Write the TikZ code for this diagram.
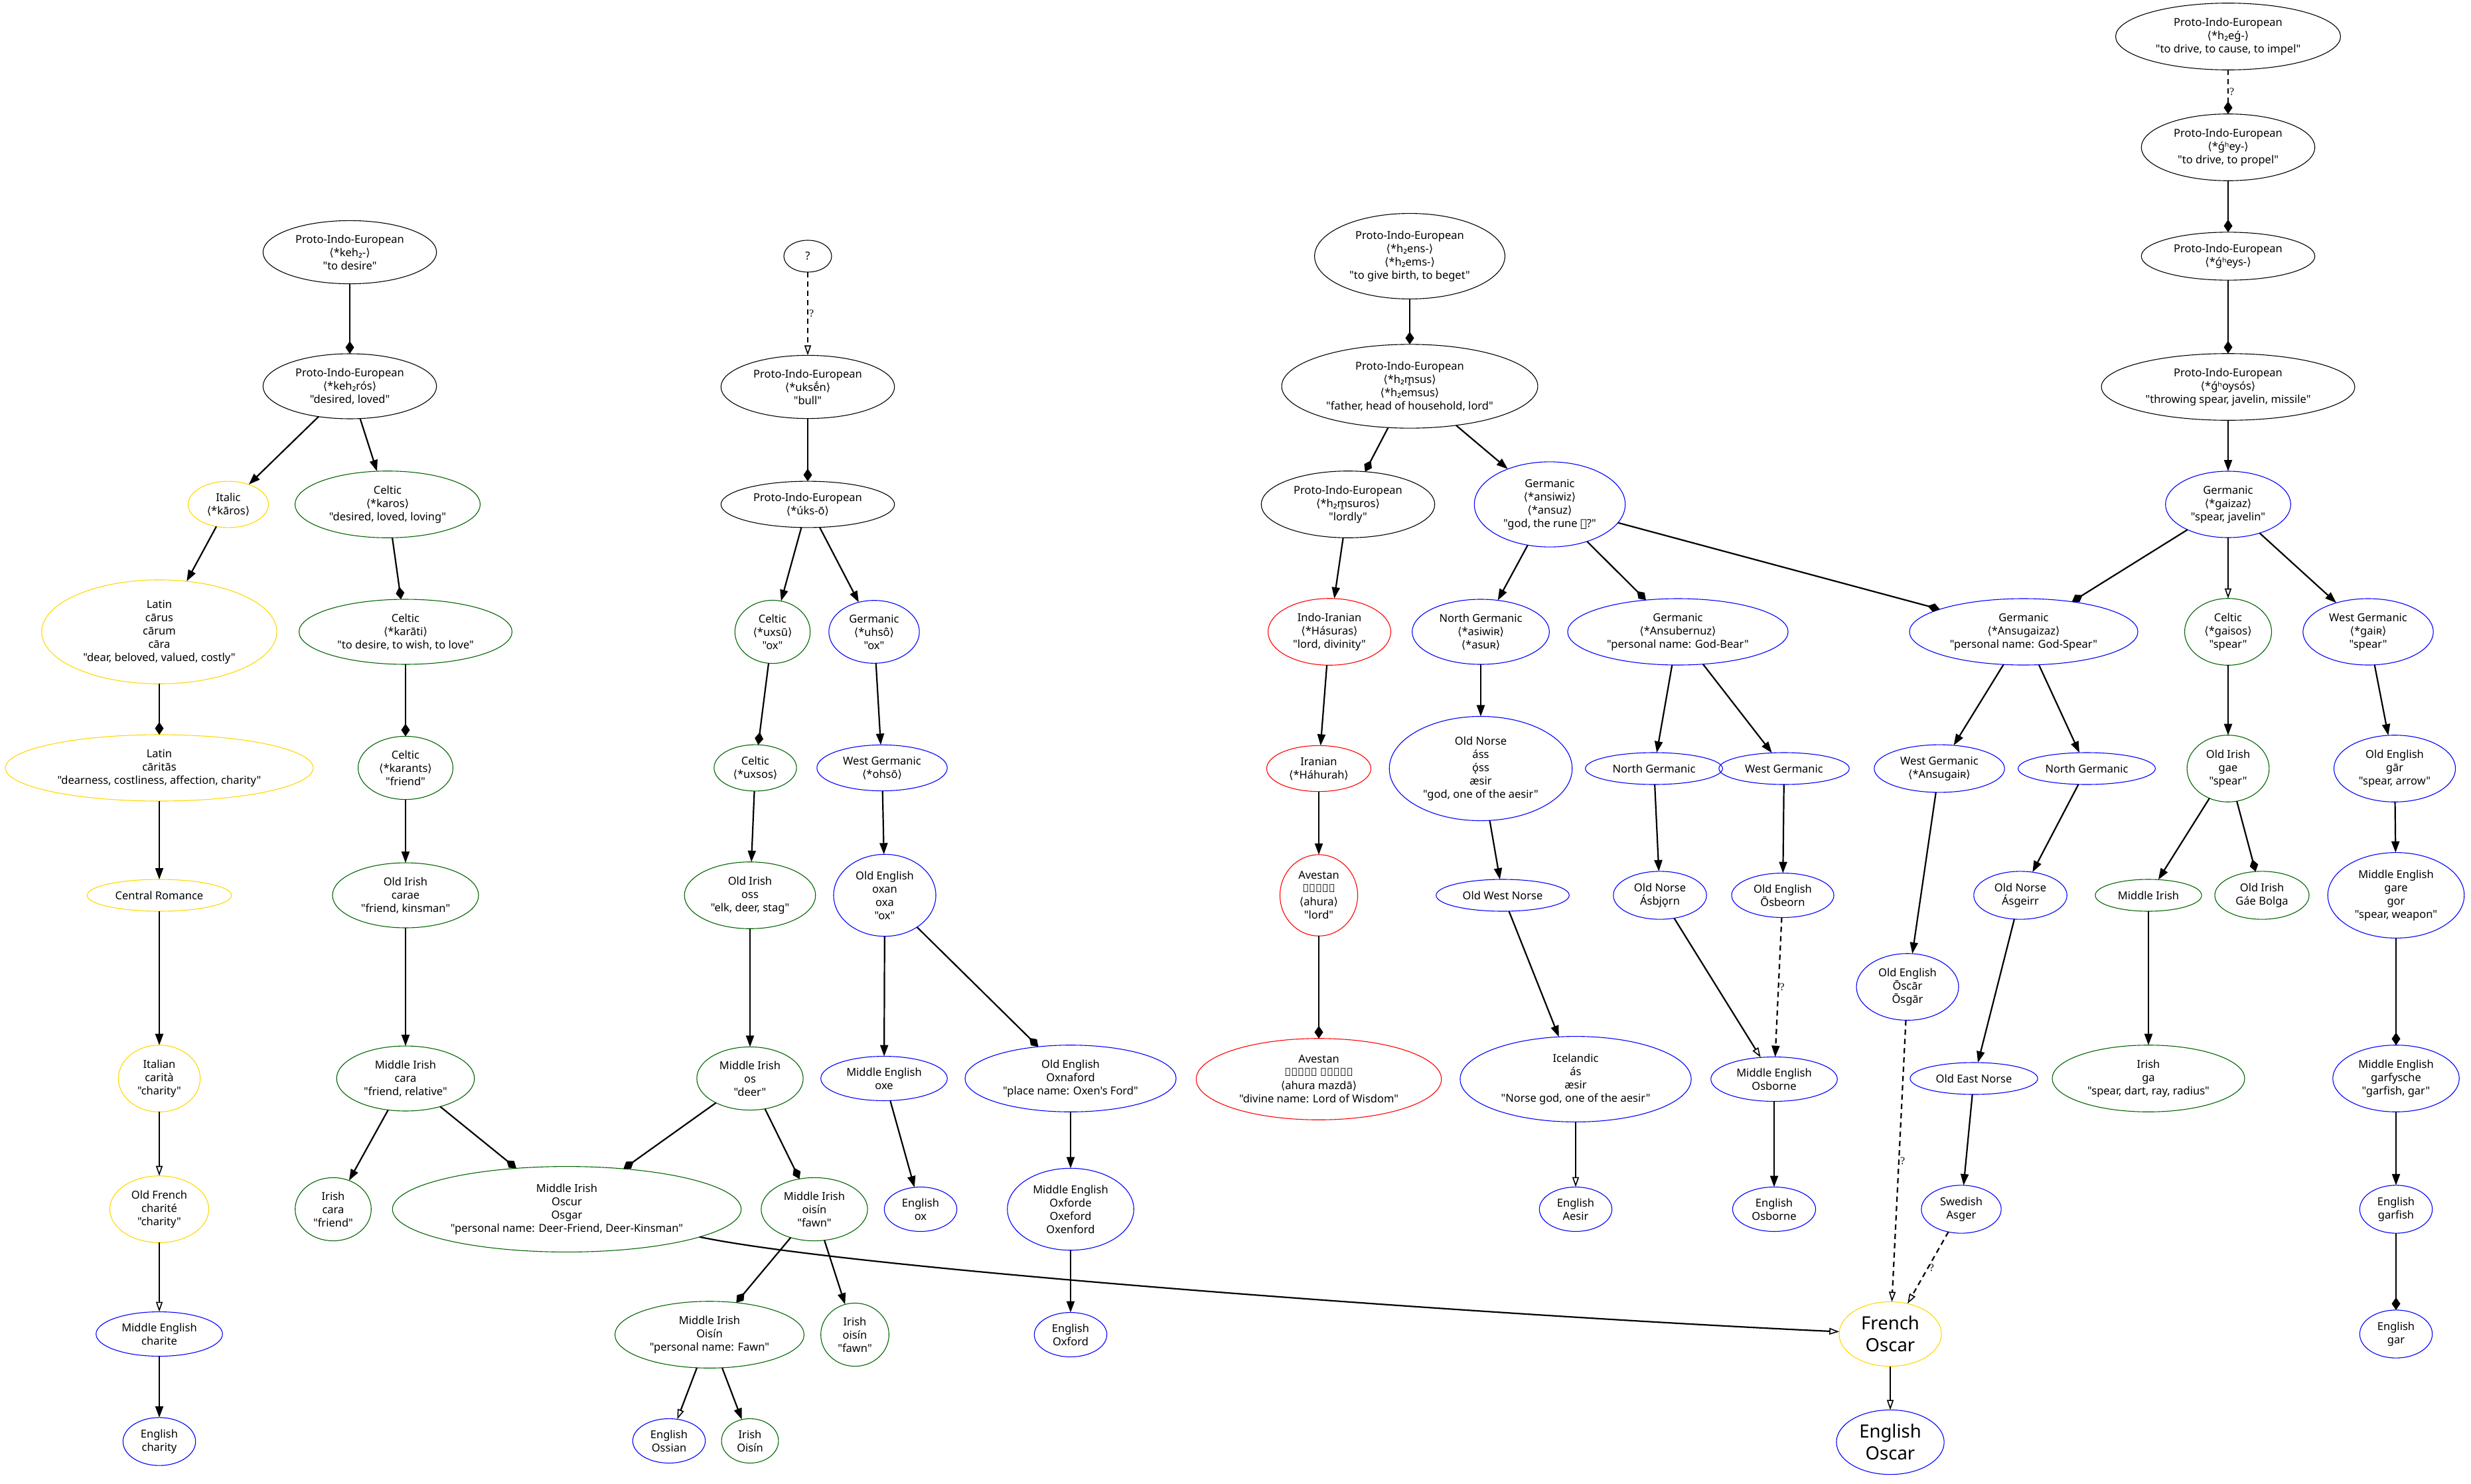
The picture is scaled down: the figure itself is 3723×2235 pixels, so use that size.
\documentclass[tikz,border=0pt]{standalone}
\usepackage{fontspec}
\setmainfont{Noto Sans}
\newfontfamily\labelfont{Noto Sans}
\newfontfamily\symfont{DejaVu Sans}
\newfontfamily\qfont{Liberation Serif}
\usetikzlibrary{shapes}
\usetikzlibrary{arrows.meta}
\definecolor{lgold}{RGB}{255,215,0}
\definecolor{lgreen}{RGB}{0,100,0}
\definecolor{lblue}{RGB}{0,0,255}
\definecolor{lred}{RGB}{255,0,0}
\newcommand{\angL}{{\symfont ⟨}}
\newcommand{\angR}{{\symfont ⟩}}

\begin{document}
\begin{tikzpicture}[x=1pt, y=-1pt,
  lang/.style={ellipse, draw, line width=1.1pt, inner xsep=10.6pt, inner ysep=7.3pt, outer sep=0pt, minimum width=72pt, minimum height=48pt, align=center, font=\labelfont\fontsize{16.5}{20}\selectfont},
  pie/.style={lang, draw=black},
  ita/.style={lang, draw=lgold},
  cel/.style={lang, draw=lgreen},
  ger/.style={lang, draw=lblue},
  iir/.style={lang, draw=lred},
  big/.style={font=\labelfont\fontsize{27.5}{33}\selectfont},
  link/.style={line width=2.2pt},
  der/.style={link, -{Triangle[length=17pt,width=12pt]}},
  inh/.style={link, -{Diamond[length=19pt,width=13pt]}},
  bor/.style={link, -{Triangle[open,length=15pt,width=10pt,line width=1.6pt]}},
  dsh/.style={dash pattern=on 8pt off 6pt},
  ql/.style={font=\qfont\fontsize{16}{16}\selectfont, anchor=west, inner sep=1pt}]
\useasboundingbox (0,0) rectangle (3723,2235);
% charity
\node[pie] (pieKeh) at (527,380) {Proto-Indo-European\\\angL*keh₂-\angR\\"to desire"};
\node[pie] (pieKehros) at (527,582) {Proto-Indo-European\\\angL*keh₂rós\angR\\"desired, loved"};
\node[ita] (italicKaros) at (344,760) {Italic\\\angL*kāros\angR};
\node[cel] (celticKaros) at (584,760) {Celtic\\\angL*karos\angR\\"desired, loved, loving"};
\node[ita] (latinCarus) at (240,952) {Latin\\cārus\\cārum\\cāra\\"dear, beloved, valued, costly"};
\node[cel] (celticKarati) at (611,952) {Celtic\\\angL*karāti\angR\\"to desire, to wish, to love"};
\node[ita] (latinCaritas) at (240,1157) {Latin\\cāritās\\"dearness, costliness, affection, charity"};
\node[cel] (celticKarants) at (611,1157) {Celtic\\\angL*karants\angR\\"friend"};
\node[ita] (centralRomance) at (240,1349) {Central Romance};
\node[cel] (oldIrishCarae) at (611,1349) {Old Irish\\carae\\"friend, kinsman"};
\node[ita] (italianCarita) at (240,1625) {Italian\\carità\\"charity"};
\node[cel] (middleIrishCara) at (611,1625) {Middle Irish\\cara\\"friend, relative"};
\node[ita] (oldFrenchCharite) at (240,1822) {Old French\\charité\\"charity"};
\node[cel] (irishCara) at (502,1822) {Irish\\cara\\"friend"};
\node[cel] (middleIrishOscur) at (854,1822) {Middle Irish\\Oscur\\Osgar\\"personal name: Deer-Friend, Deer-Kinsman"};
\node[ger] (middleEnglishCharite) at (240,2010) {Middle English\\charite};
\node[ger] (englishCharity) at (240,2172) {English\\charity};
% ox
\node[pie] (unknown) at (1217,386) {?};
\node[pie] (pieUksen) at (1217,583) {Proto-Indo-European\\\angL*uksḗn\angR\\"bull"};
\node[pie] (pieUkso) at (1217,760) {Proto-Indo-European\\\angL*úks-ō\angR};
\node[cel] (celticUxsu) at (1164,952) {Celtic\\\angL*uxsū\angR\\"ox"};
\node[ger] (germanicUhso) at (1317,952) {Germanic\\\angL*uhsô\angR\\"ox"};
\node[cel] (celticUxsos) at (1138,1157) {Celtic\\\angL*uxsos\angR};
\node[ger] (westGermanicOhso) at (1329,1157) {West Germanic\\\angL*ohsō\angR};
\node[cel] (oldIrishOss) at (1130,1349) {Old Irish\\oss\\"elk, deer, stag"};
\node[ger] (oldEnglishOxan) at (1333,1349) {Old English\\oxan\\oxa\\"ox"};
\node[cel] (middleIrishOs) at (1130,1625) {Middle Irish\\os\\"deer"};
\node[ger] (middleEnglishOxe) at (1332,1625) {Middle English\\oxe};
\node[ger] (oldEnglishOxnaford) at (1613,1625) {Old English\\Oxnaford\\"place name: Oxen's Ford"};
\node[cel] (middleIrishOisin) at (1227,1822) {Middle Irish\\oisín\\"fawn"};
\node[ger] (englishOx) at (1387,1822) {English\\ox};
\node[ger] (middleEnglishOxforde) at (1613,1822) {Middle English\\Oxforde\\Oxeford\\Oxenford};
\node[cel] (middleIrishOisinName) at (1069,2011) {Middle Irish\\Oisín\\"personal name: Fawn"};
\node[cel] (irishOisinFawn) at (1288,2011) {Irish\\oisín\\"fawn"};
\node[ger] (englishOxford) at (1613,2011) {English\\Oxford};
\node[ger] (englishOssian) at (1008,2171) {English\\Ossian};
\node[cel] (irishOisin) at (1130,2171) {Irish\\Oisín};
% ansuz
\node[pie] (pieHens) at (2124,386) {Proto-Indo-European\\\angL*h₂ens-\angR\\\angL*h₂ems-\angR\\"to give birth, to beget"};
\node[pie] (pieHmsus) at (2124,582) {Proto-Indo-European\\\angL*h₂m̥sus\angR\\\angL*h₂emsus\angR\\"father, head of household, lord"};
\node[pie] (pieHmsuros) at (2031,760) {Proto-Indo-European\\\angL*h₂m̥suros\angR\\"lordly"};
\node[ger] (germanicAnsuz) at (2335,760) {Germanic\\\angL*ansiwiz\angR\\\angL*ansuz\angR\\"god, the rune {\symfont ᚨ}?"};
\node[iir] (indoIranian) at (2003,952) {Indo-Iranian\\\angL*Hásuras\angR\\"lord, divinity"};
\node[ger] (northGermanicAsiwir) at (2231,952) {North Germanic\\\angL*asiwiʀ\angR\\\angL*asuʀ\angR};
\node[ger] (germanicAnsubernuz) at (2528,952) {Germanic\\\angL*Ansubernuz\angR\\"personal name: God-Bear"};
\node[ger] (germanicAnsugaizaz) at (3049,952) {Germanic\\\angL*Ansugaizaz\angR\\"personal name: God-Spear"};
\node[iir] (iranianHahurah) at (1987,1158) {Iranian\\\angL*Háhurah\angR};
\node[ger] (oldNorseAss) at (2231,1158) {Old Norse\\áss\\ǫ́ss\\æsir\\"god, one of the aesir"};
\node[ger] (northGermanicB) at (2492,1158) {North Germanic};
\node[ger] (westGermanicB) at (2688,1158) {West Germanic};
\node[ger] (westGermanicAnsugair) at (2922,1158) {West Germanic\\\angL*Ansugaiʀ\angR};
\node[ger] (northGermanicC) at (3144,1158) {North Germanic};
\node[iir] (avestanAhura) at (1987,1349) {Avestan\\𐬀𐬵𐬎𐬭𐬀\\\angL ahura\angR\\"lord"};
\node[ger] (oldWestNorse) at (2264,1349) {Old West Norse};
\node[ger] (oldNorseAsbjorn) at (2501,1349) {Old Norse\\Ásbjǫrn};
\node[ger] (oldEnglishOsbeorn) at (2686,1349) {Old English\\Ōsbeorn};
\node[ger] (oldNorseAsgeirr) at (3044,1349) {Old Norse\\Ásgeirr};
\node[ger] (oldEnglishOscar) at (2874,1487) {Old English\\Ōscār\\Ōsgār};
\node[iir] (avestanMazda) at (1987,1626) {Avestan\\𐬀𐬵𐬎𐬭𐬀 𐬨𐬀𐬰𐬛𐬁\\\angL ahura mazdā\angR\\"divine name: Lord of Wisdom"};
\node[ger] (icelandicAs) at (2374,1626) {Icelandic\\ás\\æsir\\"Norse god, one of the aesir"};
\node[ger] (middleEnglishOsborne) at (2673,1626) {Middle English\\Osborne};
\node[ger] (oldEastNorse) at (2974,1625) {Old East Norse};
\node[ger] (englishAesir) at (2374,1822) {English\\Aesir};
\node[ger] (englishOsborne) at (2673,1822) {English\\Osborne};
\node[ger] (swedishAsger) at (2955,1822) {Swedish\\Asger};
\node[ita, big] (frenchOscar) at (2848,2010) {French\\Oscar};
\node[ger, big] (englishOscar) at (2848,2173) {English\\Oscar};
% gar
\node[pie] (pieHeg) at (3357,55) {Proto-Indo-European\\\angL*h₂eǵ-\angR\\"to drive, to cause, to impel"};
\node[pie] (pieGhey) at (3357,222) {Proto-Indo-European\\\angL*ǵʰey-\angR\\"to drive, to propel"};
\node[pie] (pieGheys) at (3357,386) {Proto-Indo-European\\\angL*ǵʰeys-\angR};
\node[pie] (pieGhoysos) at (3357,583) {Proto-Indo-European\\\angL*ǵʰoysós\angR\\"throwing spear, javelin, missile"};
\node[ger] (germanicGaizaz) at (3357,760) {Germanic\\\angL*gaizaz\angR\\"spear, javelin"};
\node[cel] (celticGaisos) at (3357,952) {Celtic\\\angL*gaisos\angR\\"spear"};
\node[ger] (westGermanicGair) at (3568,952) {West Germanic\\\angL*gaiʀ\angR\\"spear"};
\node[cel] (oldIrishGae) at (3357,1158) {Old Irish\\gae\\"spear"};
\node[ger] (oldEnglishGar) at (3608,1158) {Old English\\gār\\"spear, arrow"};
\node[cel] (middleIrishGa) at (3237,1349) {Middle Irish};
\node[cel] (oldIrishGaeBolga) at (3408,1349) {Old Irish\\Gáe Bolga};
\node[ger] (middleEnglishGare) at (3610,1349) {Middle English\\gare\\gor\\"spear, weapon"};
\node[cel] (irishGa) at (3237,1625) {Irish\\ga\\"spear, dart, ray, radius"};
\node[ger] (middleEnglishGarfysche) at (3610,1625) {Middle English\\garfysche\\"garfish, gar"};
\node[ger] (englishGarfish) at (3610,1822) {English\\garfish};
\node[ger] (englishGar) at (3610,2010) {English\\gar};
% charity links
\draw[inh] (pieKeh) edge (pieKehros);
\draw[der] (pieKehros) edge (italicKaros);
\draw[der] (pieKehros) edge (celticKaros);
\draw[der] (italicKaros) edge (latinCarus);
\draw[inh] (celticKaros) edge (celticKarati);
\draw[inh] (latinCarus) edge (latinCaritas);
\draw[inh] (celticKarati) edge (celticKarants);
\draw[der] (latinCaritas) edge (centralRomance);
\draw[der] (celticKarants) edge (oldIrishCarae);
\draw[der] (centralRomance) edge (italianCarita);
\draw[der] (oldIrishCarae) edge (middleIrishCara);
\draw[bor] (italianCarita) edge (oldFrenchCharite);
\draw[der] (middleIrishCara) edge (irishCara);
\draw[inh] (middleIrishCara) edge (middleIrishOscur);
\draw[bor] (oldFrenchCharite) edge (middleEnglishCharite);
\draw[der] (middleEnglishCharite) edge (englishCharity);
\draw[bor] (middleIrishOscur) .. controls (1300,1915) and (2300,1985) .. (frenchOscar);
% ox links
\draw[bor, dsh] (unknown) edge node[ql] {?} (pieUksen);
\draw[inh] (pieUksen) edge (pieUkso);
\draw[der] (pieUkso) edge (celticUxsu);
\draw[der] (pieUkso) edge (germanicUhso);
\draw[inh] (celticUxsu) edge (celticUxsos);
\draw[der] (germanicUhso) edge (westGermanicOhso);
\draw[der] (celticUxsos) edge (oldIrishOss);
\draw[der] (westGermanicOhso) edge (oldEnglishOxan);
\draw[der] (oldIrishOss) edge (middleIrishOs);
\draw[der] (oldEnglishOxan) edge (middleEnglishOxe);
\draw[inh] (oldEnglishOxan) edge (oldEnglishOxnaford);
\draw[inh] (middleIrishOs) edge (middleIrishOscur);
\draw[inh] (middleIrishOs) edge (middleIrishOisin);
\draw[der] (middleEnglishOxe) edge (englishOx);
\draw[der] (oldEnglishOxnaford) edge (middleEnglishOxforde);
\draw[der] (middleEnglishOxforde) edge (englishOxford);
\draw[inh] (middleIrishOisin) edge (middleIrishOisinName);
\draw[der] (middleIrishOisin) edge (irishOisinFawn);
\draw[bor] (middleIrishOisinName) edge (englishOssian);
\draw[der] (middleIrishOisinName) edge (irishOisin);
% ansuz links
\draw[inh] (pieHens) edge (pieHmsus);
\draw[inh] (pieHmsus) edge (pieHmsuros);
\draw[der] (pieHmsus) edge (germanicAnsuz);
\draw[der] (pieHmsuros) edge (indoIranian);
\draw[der] (germanicAnsuz) edge (northGermanicAsiwir);
\draw[inh] (germanicAnsuz) edge (germanicAnsubernuz);
\draw[inh] (germanicAnsuz) edge (germanicAnsugaizaz);
\draw[der] (indoIranian) edge (iranianHahurah);
\draw[der] (northGermanicAsiwir) edge (oldNorseAss);
\draw[der] (germanicAnsubernuz) edge (northGermanicB);
\draw[der] (germanicAnsubernuz) edge (westGermanicB);
\draw[der] (iranianHahurah) edge (avestanAhura);
\draw[der] (oldNorseAss) edge (oldWestNorse);
\draw[der] (northGermanicB) edge (oldNorseAsbjorn);
\draw[der] (westGermanicB) edge (oldEnglishOsbeorn);
\draw[inh] (avestanAhura) edge (avestanMazda);
\draw[der] (oldWestNorse) edge (icelandicAs);
\draw[bor] (oldNorseAsbjorn) edge (middleEnglishOsborne);
\draw[der, dsh] (oldEnglishOsbeorn) edge node[ql] {?} (middleEnglishOsborne);
\draw[bor] (icelandicAs) edge (englishAesir);
\draw[der] (middleEnglishOsborne) edge (englishOsborne);
\draw[der] (germanicAnsugaizaz) edge (westGermanicAnsugair);
\draw[der] (germanicAnsugaizaz) edge (northGermanicC);
\draw[der] (westGermanicAnsugair) edge (oldEnglishOscar);
\draw[der] (northGermanicC) edge (oldNorseAsgeirr);
\draw[der] (oldNorseAsgeirr) edge (oldEastNorse);
\draw[der] (oldEastNorse) edge (swedishAsger);
\draw[bor, dsh] (oldEnglishOscar) edge node[ql] {?} (frenchOscar);
\draw[bor, dsh] (swedishAsger) edge node[ql] {?} (frenchOscar);
\draw[bor] (frenchOscar) edge (englishOscar);
% gar links
\draw[inh, dsh] (pieHeg) edge node[ql] {?} (pieGhey);
\draw[inh] (pieGhey) edge (pieGheys);
\draw[inh] (pieGheys) edge (pieGhoysos);
\draw[der] (pieGhoysos) edge (germanicGaizaz);
\draw[inh] (germanicGaizaz) edge (germanicAnsugaizaz);
\draw[bor] (germanicGaizaz) edge (celticGaisos);
\draw[der] (germanicGaizaz) edge (westGermanicGair);
\draw[der] (celticGaisos) edge (oldIrishGae);
\draw[der] (westGermanicGair) edge (oldEnglishGar);
\draw[der] (oldIrishGae) edge (middleIrishGa);
\draw[inh] (oldIrishGae) edge (oldIrishGaeBolga);
\draw[der] (oldEnglishGar) edge (middleEnglishGare);
\draw[der] (middleIrishGa) edge (irishGa);
\draw[inh] (middleEnglishGare) edge (middleEnglishGarfysche);
\draw[der] (middleEnglishGarfysche) edge (englishGarfish);
\draw[inh] (englishGarfish) edge (englishGar);
\end{tikzpicture}
\end{document}
